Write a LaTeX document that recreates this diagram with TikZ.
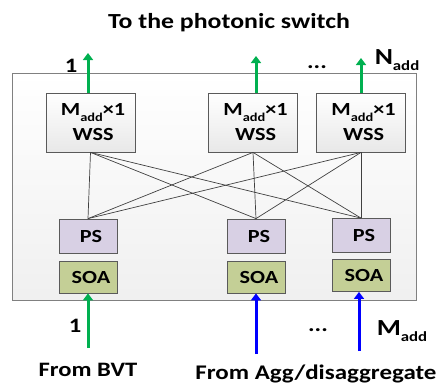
\documentclass[tikz,border=0pt]{standalone}
\usepackage{fontspec}
\setmainfont[FakeStretch=1.2]{Carlito}
\usetikzlibrary{arrows.meta}
\definecolor{arrgreen}{RGB}{0,176,80}
\definecolor{arrblue}{RGB}{0,0,255}
\definecolor{psfill}{RGB}{216,208,228}
\definecolor{soafill}{RGB}{196,207,150}
\definecolor{boxline}{RGB}{90,90,90}
\newcommand\lowsub[2][12]{\raisebox{-0.28em}{\fontsize{#1}{#1}\selectfont #2}}
\tikzset{
  every node/.style={font=\fontsize{18.5}{21}\selectfont\bfseries},
  frame/.style={draw=gray, line width=0.8pt, top color=white, bottom color=gray!12, minimum width=404pt, minimum height=227pt, inner sep=0pt},
  wssbox/.style={draw=boxline, line width=0.8pt, top color=white, bottom color=gray!18, minimum width=89pt, minimum height=59pt, inner sep=0pt, align=center},
  psbox/.style={draw=boxline, line width=0.8pt, fill=psfill, minimum width=58pt, minimum height=34pt, inner sep=0pt},
  soabox/.style={draw=boxline, line width=0.8pt, fill=soafill, minimum width=58pt, minimum height=32pt, inner sep=0pt},
  mesh/.style={draw=black!75, line width=0.7pt},
  outarrow/.style={draw=arrgreen, line width=3pt, -{Triangle[width=10pt,length=7pt]}},
  inarrow/.style={line width=3pt, -{Triangle[width=10pt,length=7pt]}},
  biglabel/.style={font=\fontsize{20.5}{24}\selectfont\bfseries, anchor=base},
  textlabel/.style={font=\fontsize{20.5}{24}\selectfont\bfseries, anchor=base}
}
\begin{document}
\begin{tikzpicture}[x=1pt,y=-1pt]
\useasboundingbox (0,0) rectangle (439,386);

% enclosing add module
\node[frame] (frame) at (214,186.5) {};

% title
\node[textlabel, font=\fontsize{21.5}{24}\selectfont\bfseries] (title) at (229,28) {To the photonic switch};

% WSS stage
\node[wssbox] (w1) at (90.5,122.5) {\kern5pt M\lowsub{add}×1\\[4pt]\kern5pt WSS};
\node[wssbox] (w2) at (253,122.5) {\kern5pt M\lowsub{add}×1\\[4pt]\kern5pt WSS};
\node[wssbox] (w3) at (361,122.5) {\kern5pt M\lowsub{add}×1\\[4pt]\kern5pt WSS};

% power splitters
\node[psbox] (p1) at (88,236) {\kern6pt PS};
\node[psbox] (p2) at (256,236) {\kern6pt PS};
\node[psbox] (p3) at (361,235.5) {\kern6pt PS};

% amplifiers
\node[soabox] (s1) at (88,277) {\kern6pt SOA};
\node[soabox] (s2) at (256,277) {\kern6pt SOA};
\node[soabox] (s3) at (361,275.5) {\kern6pt SOA};

% full mesh between splitters and WSS
\foreach \i in {1,2,3}
  \foreach \j in {1,2,3}
    \draw[mesh] (w\i.south) -- (p\j.north);

% outputs towards the photonic switch
\coordinate (o1) at (88,53);
\coordinate (o2) at (256,56);
\coordinate (o3) at (361,58);
\draw[outarrow] (w1.north -| o1) -- (o1);
\draw[outarrow] (w2.north -| o2) -- (o2);
\draw[outarrow] (w3.north -| o3) -- (o3);

% inputs
\coordinate (i1) at (88,348);
\coordinate (i2) at (256,354);
\coordinate (i3) at (359,351);
\draw[inarrow, draw=arrgreen] (i1) -- (i1 |- s1.south);
\draw[inarrow, draw=arrblue] (i2) -- (i2 |- s2.south);
\draw[inarrow, draw=arrblue] (i3) -- (i3 |- s3.south);

% port labels
\node[biglabel] (t1) at (71,72) {1};
\node[biglabel] (tdots) at (317,68) {...};
\node[biglabel, font=\fontsize{23}{26}\selectfont\bfseries] (tn) at (397,64) {N\lowsub[14]{add}};
\node[biglabel] (b1) at (75,332) {1};
\node[biglabel] (bdots) at (318,331) {...};
\node[biglabel, font=\fontsize{23}{26}\selectfont\bfseries] (bm) at (402,335) {M\lowsub[14]{add}};

% source labels
\node[textlabel] (bvt) at (88,376) {From BVT};
\node[textlabel, font=\fontsize{20.8}{24}\selectfont\bfseries] (agg) at (316,379) {From Agg/disaggregate};
\end{tikzpicture}
\end{document}
